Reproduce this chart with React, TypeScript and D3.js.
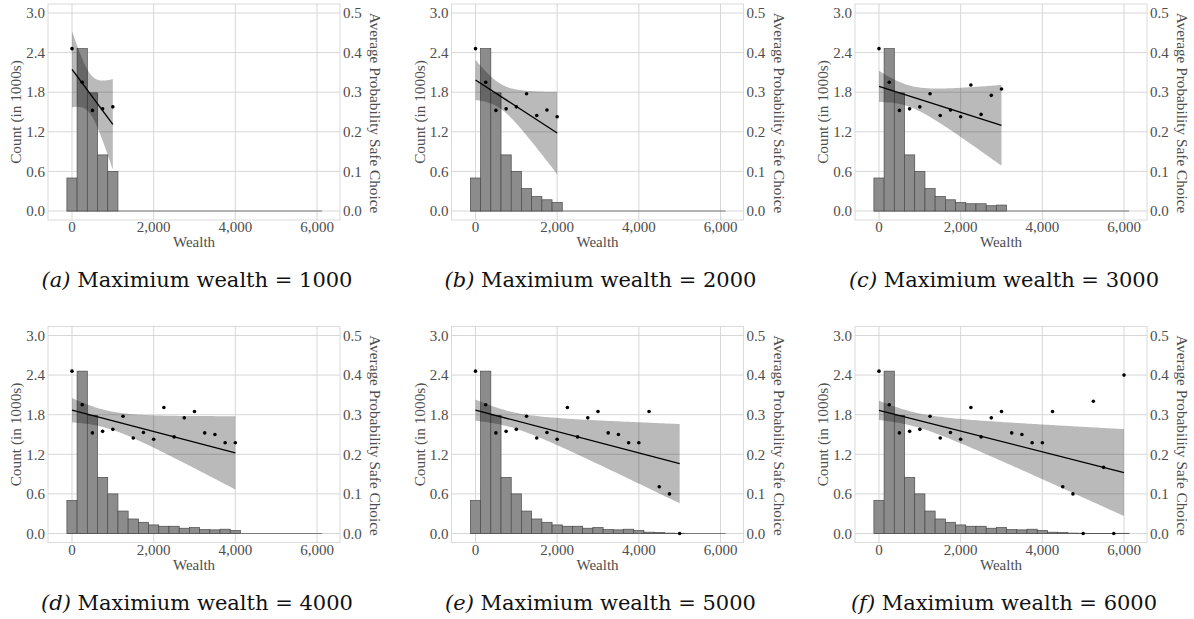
import React from "react";
import * as d3 from "d3";

// ---- data ----
const wealthBins = [0, 250, 500, 750, 1000, 1250, 1500, 1750, 2000, 2250, 2500, 2750, 3000, 3250, 3500, 3750, 4000, 4250, 4500, 4750, 5000, 5250, 5500, 5750, 6000];
const countsK = [0.5, 2.46, 1.79, 0.85, 0.6, 0.34, 0.22, 0.17, 0.13, 0.11, 0.11, 0.08, 0.09, 0.06, 0.055, 0.065, 0.045, 0.02, 0.015, 0.006, 0.003, 0.002, 0.002, 0.001, 0.003];
const probSafe = [0.41, 0.325, 0.254, 0.258, 0.263, 0.296, 0.241, 0.255, 0.238, 0.318, 0.244, 0.292, 0.308, 0.254, 0.25, 0.229, 0.229, 0.308, 0.118, 0.1, 0.0, 0.334, 0.167, 0.0, 0.4];
const maxWealths = [1000, 2000, 3000, 4000, 5000, 6000];
const panelLetters = ["a", "b", "c", "d", "e", "f"];
const xTicks = [0, 2000, 4000, 6000];
const countTicks = [0, 0.6, 1.2, 1.8, 2.4, 3.0];
const probTicks = [0, 0.1, 0.2, 0.3, 0.4, 0.5];
const binWidth = 250;

// ---- stats helpers (weighted linear fit with 95% CI, like geom_smooth(method=lm, weights)) ----
function lgamma(x: number): number {
  const g = 7;
  const c = [0.99999999999980993, 676.5203681218851, -1259.1392167224028, 771.32342877765313, -176.61502916214059, 12.507343278686905, -0.13857109526572012, 9.9843695780195716e-6, 1.5056327351493116e-7];
  if (x < 0.5) return Math.log(Math.PI / Math.sin(Math.PI * x)) - lgamma(1 - x);
  x -= 1;
  let a = c[0];
  const t = x + g + 0.5;
  for (let i = 1; i < g + 2; i++) a += c[i] / (x + i);
  return 0.5 * Math.log(2 * Math.PI) + (x + 0.5) * Math.log(t) - t + Math.log(a);
}
function tpdf(t: number, v: number) {
  return Math.exp(lgamma((v + 1) / 2) - lgamma(v / 2)) / Math.sqrt(v * Math.PI) * Math.pow(1 + (t * t) / v, -(v + 1) / 2);
}
function tHalfCdf(t: number, v: number) {
  const n = 400;
  const h = t / n;
  let s = tpdf(0, v) + tpdf(t, v);
  for (let i = 1; i < n; i++) s += (i % 2 ? 4 : 2) * tpdf(i * h, v);
  return (s * h) / 3;
}
function tQuantile975(v: number) {
  let lo = 0, hi = 30;
  for (let k = 0; k < 60; k++) {
    const mid = (lo + hi) / 2;
    if (tHalfCdf(mid, v) < 0.475) lo = mid; else hi = mid;
  }
  return (lo + hi) / 2;
}
function wlsFit(xs: number[], ys: number[], ws: number[]) {
  const n = xs.length;
  const sw = d3.sum(ws);
  const xbar = d3.sum(xs.map((x, i) => x * ws[i])) / sw;
  const ybar = d3.sum(ys.map((y, i) => y * ws[i])) / sw;
  let sxx = 0, sxy = 0;
  for (let i = 0; i < n; i++) {
    sxx += ws[i] * (xs[i] - xbar) ** 2;
    sxy += ws[i] * (xs[i] - xbar) * (ys[i] - ybar);
  }
  const b = sxy / sxx;
  const a = ybar - b * xbar;
  let sse = 0;
  for (let i = 0; i < n; i++) sse += ws[i] * (ys[i] - a - b * xs[i]) ** 2;
  const s2 = sse / (n - 2);
  const tq = tQuantile975(n - 2);
  return (x: number) => {
    const f = a + b * x;
    const se = Math.sqrt(s2 * (1 / sw + (x - xbar) ** 2 / sxx));
    return { f, lo: f - tq * se, hi: f + tq * se };
  };
}

// ---- layout ----
const FRAME_W = 292;
const FRAME_H = 216;
const colLeft = [48, 451.5, 855];
const rowTop = [4, 326.5];
const axisFont = "'Liberation Serif', 'Times New Roman', serif";
const captionFont = "'DejaVu Serif', serif";
const textGray = "#4d4d4d";

function Panel({ idx }: { idx: number }) {
  const left = colLeft[idx % 3];
  const top = rowTop[Math.floor(idx / 3)];
  const maxW = maxWealths[idx];
  const x = d3.scaleLinear().domain([0, 6000]).range([left + 24, left + 24 + 245]);
  const yC = d3.scaleLinear().domain([0, 3]).range([top + 207, top + 9]);
  const yP = d3.scaleLinear().domain([0, 0.5]).range([top + 207, top + 9]);

  const sel = wealthBins.map((w, i) => i).filter((i) => wealthBins[i] <= maxW);
  const xs = sel.map((i) => wealthBins[i]);
  const ys = sel.map((i) => probSafe[i]);
  const ws = sel.map((i) => countsK[i]);
  const fit = wlsFit(xs, ys, ws);
  const grid = d3.range(0, 101).map((k) => (k / 100) * maxW);
  const band = d3
    .area<number>()
    .x((d) => x(d))
    .y0((d) => yP(fit(d).lo))
    .y1((d) => yP(fit(d).hi))(grid);
  const line = d3
    .line<number>()
    .x((d) => x(d))
    .y((d) => yP(fit(d).f))([0, maxW]);

  const right = left + FRAME_W;
  return (
    <g>
      <rect x={left} y={top} width={FRAME_W} height={FRAME_H} fill="none" stroke="#dadada" strokeWidth={1} />
      {countTicks.map((t) => (
        <line key={"h" + t} x1={left} x2={right} y1={yC(t)} y2={yC(t)} stroke="#d3d3d3" strokeWidth={0.9} />
      ))}
      {xTicks.map((t) => (
        <line key={"v" + t} x1={x(t)} x2={x(t)} y1={top} y2={top + FRAME_H} stroke="#d3d3d3" strokeWidth={0.9} />
      ))}
      {/* histogram baseline (empty bins) */}
      <line x1={x(wealthBins[0] - binWidth / 2)} x2={x(wealthBins[wealthBins.length - 1] + binWidth / 2)} y1={yC(0)} y2={yC(0)} stroke="#7a7a7a" strokeWidth={1} />
      {sel.map((i) => (
        <rect
          key={"b" + i}
          x={x(wealthBins[i] - binWidth / 2)}
          width={x(binWidth) - x(0)}
          y={yC(countsK[i])}
          height={Math.max(0, yC(0) - yC(countsK[i]))}
          fill="#8c8c8c"
          stroke="#4a4a4a"
          strokeWidth={0.7}
        />
      ))}
      <path d={band || ""} fill="#000" fillOpacity={0.27} stroke="none" />
      <path d={line || ""} fill="none" stroke="#000" strokeWidth={1.3} />
      {sel.map((i) => (
        <circle key={"p" + i} cx={x(wealthBins[i])} cy={yP(probSafe[i])} r={1.8} fill="#000" />
      ))}
      {/* left axis labels */}
      {countTicks.map((t) => (
        <text key={"lc" + t} x={left - 3} y={yC(t)} dy="0.35em" textAnchor="end" fontFamily={axisFont} fontSize={15} fill={textGray}>
          {t.toFixed(1)}
        </text>
      ))}
      {probTicks.map((t) => (
        <text key={"rp" + t} x={right + 3} y={yP(t)} dy="0.35em" textAnchor="start" fontFamily={axisFont} fontSize={15} fill={textGray}>
          {t.toFixed(1)}
        </text>
      ))}
      {xTicks.map((t) => (
        <text key={"xt" + t} x={x(t)} y={top + 228} textAnchor="middle" fontFamily={axisFont} fontSize={15} fill={textGray}>
          {d3.format(",")(t)}
        </text>
      ))}
      <text x={(left + right) / 2} y={top + 243} textAnchor="middle" fontFamily={axisFont} fontSize={15} fill={textGray}>
        Wealth
      </text>
      <text
        transform={`translate(${left - 32},${top + FRAME_H / 2}) rotate(-90)`}
        dy="0.35em"
        textAnchor="middle"
        fontFamily={axisFont}
        fontSize={15.3}
        fill={textGray}
      >
        Count (in 1000s)
      </text>
      <text
        transform={`translate(${right + 35.5},${top + FRAME_H / 2 + 1}) rotate(90)`}
        dy="0.35em"
        textAnchor="middle"
        fontFamily={axisFont}
        fontSize={15.3}
        fill={textGray}
      >
        Average Probability Safe Choice
      </text>
      <text x={left + 149} y={top + 283} textAnchor="middle" fontFamily={captionFont} fontSize={21} fill="#111">
        <tspan fontStyle="italic">({panelLetters[idx]})</tspan>
        <tspan> Maximium wealth = {maxW}</tspan>
      </text>
    </g>
  );
}

export default function App() {
  return (
    <svg width={1194} height={619} style={{ position: "absolute", left: 0, top: 0, background: "#fff" }}>
      <rect x={0} y={0} width={1194} height={619} fill="#fff" />
      {maxWealths.map((_, i) => (
        <Panel key={i} idx={i} />
      ))}
    </svg>
  );
}
